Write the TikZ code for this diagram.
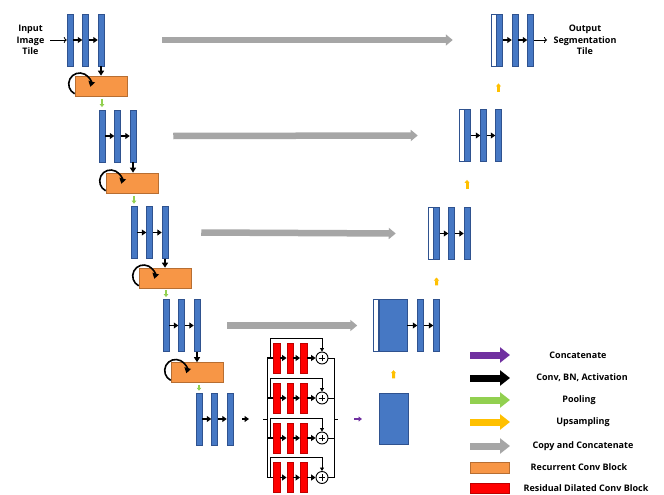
\documentclass[tikz,border=0pt]{standalone}
\usepackage{fontspec}
\setmainfont{Open Sans}
\usetikzlibrary{arrows.meta,calc}

\definecolor{barblue}{RGB}{70,120,196}
\definecolor{barline}{RGB}{47,82,143}
\definecolor{recfill}{RGB}{247,150,70}
\definecolor{recline}{RGB}{183,110,50}
\definecolor{resfill}{RGB}{255,0,0}
\definecolor{resline}{RGB}{190,0,0}
\definecolor{copygrey}{RGB}{166,166,166}
\definecolor{poolgreen}{RGB}{146,208,80}
\definecolor{upyellow}{RGB}{255,192,0}
\definecolor{catpurple}{RGB}{112,48,160}

\tikzset{
  encbar/.style={rectangle, fill=barblue, draw=barline, line width=0.5pt,
    minimum width=6pt, minimum height=52pt, inner sep=0pt},
  skipbar/.style={rectangle, fill=white, draw=barline, line width=0.5pt,
    minimum width=5pt, minimum height=52pt, inner sep=0pt, anchor=east},
  recbox/.style={rectangle, fill=recfill, draw=recline, line width=0.6pt,
    minimum width=52pt, minimum height=20pt, inner sep=0pt},
  resbar/.style={rectangle, fill=resfill, draw=resline, line width=0.4pt,
    minimum width=6.5pt, minimum height=30pt, inner sep=0pt},
  sumnode/.style={circle, draw=black, line width=0.9pt, fill=white,
    minimum size=12pt, inner sep=0pt},
  conv/.style={line width=1.8pt, -{Triangle[width=6pt,length=4.5pt]}},
  feeddown/.style={line width=1.8pt, -{Triangle[width=6pt,length=5pt]}},
  recur/.style={line width=1.6pt, -{Triangle[width=6.5pt,length=5.5pt]}},
  pool/.style={poolgreen, line width=2.4pt, -{Triangle[width=4.5pt,length=3pt]}},
  upsm/.style={upyellow, line width=3pt, -{Triangle[width=5pt,length=3pt]}},
  catarr/.style={catpurple, line width=2.4pt, -{Triangle[width=5pt,length=3.5pt]}},
  copyarr/.style={copygrey, line width=6.5pt, -{Triangle[width=11pt,length=7pt]}},
  wire/.style={line width=0.7pt},
  ioarrow/.style={line width=0.8pt, -{To[length=3pt,width=6pt]}},
  legarr/.style={line width=7pt, -{Triangle[width=15pt,length=10pt]}},
  iolabel/.style={font=\bfseries\fontsize{9}{11.5}\selectfont, align=center, inner sep=0pt},
  legtext/.style={font=\bfseries\fontsize{9}{10}\selectfont, inner sep=0pt},
}

\begin{document}
\begin{tikzpicture}[x=1pt,y=-1pt]
\fill[white] (0,0) rectangle (664,495);
\useasboundingbox (0,0) rectangle (664,495);

% ---------- contracting path ----------
\foreach \i/\x/\y in {1/70/40,2/102/136,3/134/232.5,4/166/325.5,5/199/419}{
  \node[encbar] (e\i-a) at (\x,\y) {};
  \node[encbar] (e\i-b) at (\x+15.5,\y) {};
  \node[encbar] (e\i-c) at (\x+31,\y) {};
  \draw[conv] (e\i-a) -- (e\i-b);
  \draw[conv] (e\i-b) -- (e\i-c);
}

% recurrent conv blocks with their loop arrows
\foreach \i/\x/\y in {1/101/86,2/132/183,3/165/278,4/197/372.5}{
  \node[recbox] (r\i) at (\x,\y) {};
  \draw[feeddown] (e\i-c.south) -- (e\i-c.south |- r\i.north);
  \draw[recur] ($(r\i.west)+(5,-2)+(117:11)$) arc[start angle=117,end angle=375,radius=11];
}

% pooling
\foreach \i/\j in {1/2,2/3,3/4,4/5}{
  \draw[pool] ($(r\i.south -| e\j-a.north)!0.2!(e\j-a.north)$) --
              ($(r\i.south -| e\j-a.north)!0.8!(e\j-a.north)$);
}

% ---------- expanding path ----------
\node[encbar] (d1-a) at (499.5,40) {};
\node[skipbar] (d1-w) at (d1-a.west) {};
\node[encbar] (d1-b) at (515,40) {};
\node[encbar] (d1-c) at (530.5,40) {};

\node[encbar] (d2-a) at (467.5,135.5) {};
\node[skipbar] (d2-w) at (d2-a.west) {};
\node[encbar] (d2-b) at (483.5,135.5) {};
\node[encbar] (d2-c) at (498.5,135.5) {};

\node[encbar] (d3-a) at (436.5,233.5) {};
\node[skipbar] (d3-w) at (d3-a.west) {};
\node[encbar] (d3-b) at (451.5,233.5) {};
\node[encbar] (d3-c) at (467,233.5) {};

\node[encbar, minimum width=28pt] (d4-a) at (393,325.5) {};
\node[skipbar] (d4-w) at (d4-a.west) {};
\node[encbar] (d4-b) at (420.5,325.5) {};
\node[encbar] (d4-c) at (436.5,325.5) {};

\node[encbar, minimum width=29pt, minimum height=51pt] (d5) at (393.5,418.5) {};

\foreach \i in {1,2,3,4}{
  \draw[conv] (d\i-a) -- (d\i-b);
  \draw[conv] (d\i-b) -- (d\i-c);
}

% upsampling
\draw[upsm] ($(d5.north)!0.35!(d5.north |- d4-a.south)$) -- ($(d5.north)!0.55!(d5.north |- d4-a.south)$);
\draw[upsm] ($(d4-c.north)!0.35!(d4-c.north |- d3-a.south)$) -- ($(d4-c.north)!0.55!(d4-c.north |- d3-a.south)$);
\draw[upsm] ($(d3-c.north)!0.4!(d3-c.north |- d2-a.south)$) -- ($(d3-c.north)!0.6!(d3-c.north |- d2-a.south)$);
\draw[upsm] ($(d2-c.north)!0.4!(d2-c.north |- d1-a.south)$) -- ($(d2-c.north)!0.6!(d2-c.north |- d1-a.south)$);

% copy and concatenate
\draw[copyarr] ([xshift=58pt]e1-c.east) -- ([xshift=-38pt]d1-w.west);
\draw[copyarr] ([xshift=37pt]e2-c.east) -- ([xshift=-41pt]d2-w.west);
\draw[copyarr] ([xshift=33pt]e3-c.east) -- ([xshift=-32pt]d3-w.west);
\draw[copyarr] ([xshift=27pt]e4-c.east) -- ([xshift=-16pt]d4-w.west);

% input / output
\coordinate (inp) at (50,40);
\coordinate (outp) at (547,40);
\draw[ioarrow] (inp) -- (e1-a.west);
\draw[ioarrow] (d1-c.east) -- (outp);
\node[iolabel] (intext) at (30.5,40) {Input\\Image\\Tile};
\node[iolabel] (outtext) at (585,40) {Output\\Segmentation\\Tile};

% ---------- residual dilated conv block ----------
\coordinate (cva) at (242,419);
\coordinate (cvb) at (249,419);
\draw[conv] (cva) -- (cvb);

\foreach \k/\y in {1/358,2/398,3/438,4/477.5}{
  \node[resbar] (s\k-a) at (276.5,\y) {};
  \node[resbar] (s\k-b) at (290,\y) {};
  \node[resbar] (s\k-c) at (303.5,\y) {};
  \node[sumnode] (p\k) at (322,\y) {};
  \draw[line width=0.8pt] ([xshift=-3.3pt]p\k.center) -- ([xshift=3.3pt]p\k.center);
  \draw[line width=0.8pt] ([yshift=-3.3pt]p\k.center) -- ([yshift=3.3pt]p\k.center);
  \coordinate (l\k) at (267,\y);
  \coordinate (o\k) at (334,\y);
  \coordinate (t\k) at (270,\y-20);
  \draw[line width=1.3pt] (l\k) -- (s\k-a.west);
  \draw[conv] (s\k-a) -- (s\k-b);
  \draw[conv] (s\k-b) -- (s\k-c);
  \draw[conv] (s\k-c) -- (p\k);
  \draw[wire] (p\k.east) -- (o\k);
  \draw[wire, -{Triangle[width=4pt,length=3.5pt]}] (l\k -| t\k) -- (t\k) -| (p\k.north);
}
\draw[wire] (l1) -- (l4);
\draw[wire] (o1) -- (o4);
\coordinate (resin) at (263,419);
\coordinate (resout) at (338,419);
\draw[wire] (resin) -- (resin -| l1);
\draw[wire] (resout -| o1) -- (resout);

\coordinate (ca) at (354,419);
\coordinate (cb) at (362,419);
\draw[catarr] (ca) -- (cb);

% ---------- legend ----------
\coordinate (g1s) at (470,355); \coordinate (g1e) at (510,355);
\coordinate (g2s) at (470,378); \coordinate (g2e) at (510,378);
\coordinate (g3s) at (470,400); \coordinate (g3e) at (510,400);
\coordinate (g4s) at (470,422); \coordinate (g4e) at (510,422);
\coordinate (g5s) at (470,446); \coordinate (g5e) at (510,446);
\draw[legarr, catpurple] (g1s) -- (g1e);
\draw[legarr, black] (g2s) -- (g2e);
\draw[legarr, poolgreen] (g3s) -- (g3e);
\draw[legarr, upyellow] (g4s) -- (g4e);
\draw[legarr, copygrey] (g5s) -- (g5e);
\node[recbox, minimum width=39pt, minimum height=11pt] (g6) at (489.5,467.5) {};
\node[resbar, minimum width=39pt, minimum height=10pt] (g7) at (489.5,488) {};

\node[legtext] (t1) at (578,355) {Concatenate};
\node[legtext] (t2) at (582,378) {Conv, BN, Activation};
\node[legtext] (t3) at (579,400) {Pooling};
\node[legtext] (t4) at (583,422) {Upsampling};
\node[legtext] (t5) at (583,446) {Copy and Concatenate};
\node[legtext] (t6) at (579,467) {Recurrent Conv Block};
\node[legtext] (t7) at (586,488) {Residual Dilated Conv Block};
\end{tikzpicture}
\end{document}
